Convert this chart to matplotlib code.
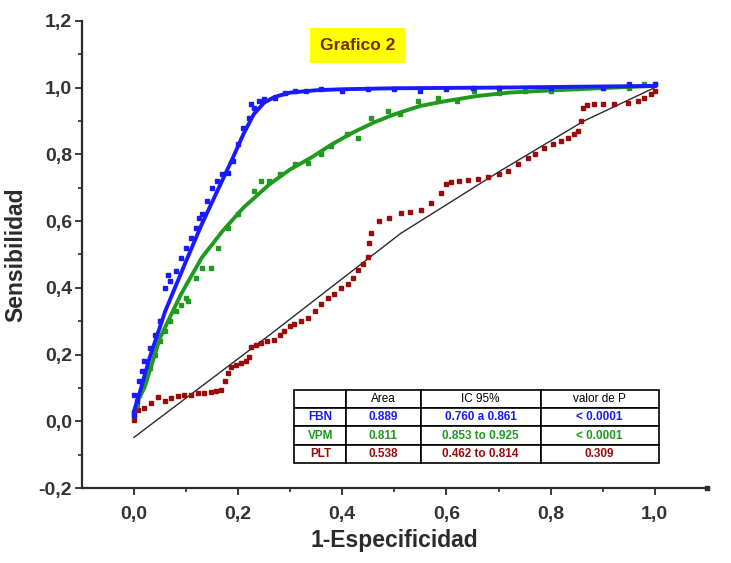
"""ROC curves (Grafico 2): FBN, VPM and PLT, with the summary table inset."""
import numpy as np
import matplotlib
matplotlib.use("Agg")
import matplotlib.pyplot as plt
from matplotlib.ticker import FixedLocator, FuncFormatter

FONT = "Liberation Sans"
BLUE, GREEN, RED, INK = "#1a1aff", "#1f9a1f", "#9a0c0c", "#2b2b2b"

# --- FBN (blue): fitted curve and ROC points
fbn_fit_x = [0, 0.01, 0.03, 0.06, 0.10, 0.13, 0.16, 0.19, 0.21, 0.23, 0.25,
             0.27, 0.30, 0.35, 0.40, 0.50, 0.70, 1.0]
fbn_fit_y = [0.03, 0.08, 0.19, 0.33, 0.48, 0.59, 0.69, 0.79, 0.86, 0.92, 0.955,
             0.972, 0.985, 0.992, 0.995, 0.998, 1.0, 1.005]
fbn_x = [0.0, 0.0, 0.005, 0.01, 0.015, 0.02, 0.03, 0.04, 0.05, 0.06, 0.065, 0.07,
         0.08, 0.09, 0.10, 0.11, 0.12, 0.125, 0.13, 0.14, 0.15, 0.16, 0.17, 0.18,
         0.19, 0.20, 0.21, 0.22, 0.225, 0.23, 0.24, 0.25, 0.27, 0.29, 0.31, 0.33,
         0.36, 0.40, 0.45, 0.50, 0.55, 0.60, 0.65, 0.70, 0.80, 0.90, 0.95, 1.0]
fbn_y = [0.02, 0.08, 0.06, 0.12, 0.15, 0.18, 0.22, 0.26, 0.30, 0.40, 0.44, 0.42,
         0.45, 0.49, 0.52, 0.55, 0.58, 0.61, 0.62, 0.66, 0.70, 0.72, 0.74, 0.745,
         0.78, 0.83, 0.88, 0.91, 0.95, 0.94, 0.96, 0.965, 0.97, 0.985, 0.99, 0.99,
         0.995, 0.99, 0.995, 0.995, 0.99, 0.995, 1.0, 1.0, 1.0, 1.0, 1.01, 1.01]

# --- VPM (green)
vpm_fit_x = [0, 0.01, 0.02, 0.05, 0.09, 0.13, 0.17, 0.21, 0.26, 0.30, 0.34, 0.38,
             0.42, 0.46, 0.50, 0.55, 0.60, 0.66, 0.72, 0.78, 0.85, 0.92, 1.0]
vpm_fit_y = [0.03, 0.07, 0.10, 0.25, 0.38, 0.49, 0.57, 0.64, 0.71, 0.755, 0.79,
             0.83, 0.865, 0.895, 0.92, 0.945, 0.96, 0.975, 0.985, 0.99, 0.995,
             1.0, 1.005]
vpm_x = [0, 0.005, 0.01, 0.02, 0.03, 0.04, 0.05, 0.06, 0.07, 0.08, 0.09, 0.10,
         0.104, 0.12, 0.13, 0.148, 0.161, 0.18, 0.20, 0.23, 0.244, 0.26, 0.28,
         0.31, 0.334, 0.36, 0.378, 0.41, 0.43, 0.455, 0.487, 0.51, 0.545, 0.583,
         0.62, 0.653, 0.70, 0.75, 0.80, 0.85, 0.90, 0.95, 0.98, 1.0]
vpm_y = [0.02, 0.05, 0.08, 0.12, 0.16, 0.20, 0.24, 0.27, 0.30, 0.33, 0.35, 0.37,
         0.36, 0.43, 0.46, 0.46, 0.52, 0.58, 0.62, 0.69, 0.72, 0.72, 0.74, 0.77,
         0.775, 0.80, 0.826, 0.86, 0.85, 0.91, 0.93, 0.92, 0.96, 0.97, 0.96, 0.99,
         0.985, 0.99, 0.99, 1.0, 1.0, 1.0, 1.01, 1.01]

# --- PLT (dark red) points and its thin black fit
plt_x = [0, 0.008, 0.02, 0.033, 0.046, 0.06, 0.071, 0.085, 0.096, 0.11, 0.123,
         0.135, 0.148, 0.158, 0.167, 0.175, 0.18, 0.186, 0.195, 0.205, 0.215,
         0.221, 0.225, 0.235, 0.244, 0.256, 0.269, 0.28, 0.288, 0.30, 0.307, 0.32,
         0.334, 0.347, 0.359, 0.372, 0.384, 0.398, 0.411, 0.42, 0.43, 0.44, 0.449,
         0.452, 0.455, 0.47, 0.49, 0.512, 0.53, 0.551, 0.57, 0.589, 0.60, 0.608,
         0.625, 0.641, 0.66, 0.679, 0.70, 0.718, 0.737, 0.756, 0.77, 0.787, 0.805,
         0.82, 0.833, 0.845, 0.852, 0.858, 0.862, 0.87, 0.883, 0.90, 0.921, 0.948,
         0.967, 0.98, 0.992, 1.0]
plt_y = [0.003, 0.033, 0.04, 0.054, 0.072, 0.06, 0.069, 0.075, 0.078, 0.08, 0.084,
         0.085, 0.087, 0.09, 0.093, 0.12, 0.144, 0.162, 0.17, 0.174, 0.18, 0.192,
         0.222, 0.228, 0.234, 0.24, 0.243, 0.26, 0.272, 0.285, 0.293, 0.30, 0.311,
         0.33, 0.353, 0.37, 0.383, 0.40, 0.413, 0.43, 0.452, 0.47, 0.491, 0.533,
         0.563, 0.60, 0.61, 0.623, 0.628, 0.632, 0.653, 0.683, 0.71, 0.716, 0.72,
         0.722, 0.726, 0.731, 0.74, 0.751, 0.772, 0.79, 0.80, 0.82, 0.83, 0.841,
         0.85, 0.862, 0.87, 0.901, 0.94, 0.948, 0.952, 0.952, 0.952, 0.955, 0.961,
         0.97, 0.982, 0.99]
ref_x = [0, 0.263, 0.512, 0.704, 0.864, 1.0]
ref_y = [-0.048, 0.262, 0.563, 0.751, 0.90, 1.0]

# --- summary table
tbl_header = ["", "Area", "IC 95%", "valor de P"]
tbl_rows = [["FBN", "0.889", "0.760 a 0.861", "< 0.0001"],
            ["VPM", "0.811", "0.853 to 0.925", "< 0.0001"],
            ["PLT", "0.538", "0.462 to 0.814", "0.309"]]
tbl_colors = [BLUE, GREEN, RED]

x_major = [0.0, 0.2, 0.4, 0.6, 0.8, 1.0]
x_minor = [0.1, 0.3, 0.5, 0.7, 0.9]
y_major = [-0.2, 0.0, 0.2, 0.4, 0.6, 0.8, 1.0, 1.2]
y_minor = [-0.1, 0.1, 0.3, 0.5, 0.7, 0.9, 1.1]


def comma(v, _pos):
    return f"{v:.1f}".replace(".", ",")


def main():
    fig = plt.figure(figsize=(7.31, 5.63), dpi=100)
    ax = fig.add_axes([0.112, 0.133, 0.855, 0.830])
    ax.set_xlim(-0.1, 1.1)
    ax.set_ylim(-0.2, 1.2)

    ax.plot(ref_x, ref_y, color=INK, lw=1.0, zorder=2)
    ax.plot(plt_x, plt_y, "s", color=RED, ms=3.4, mec=RED, zorder=3)
    ax.plot(vpm_x, vpm_y, "s", color=GREEN, ms=3.2, zorder=4)
    ax.plot(vpm_fit_x, vpm_fit_y, color=GREEN, lw=2.8, zorder=4)
    ax.plot(fbn_x, fbn_y, "s", color=BLUE, ms=3.2, zorder=5)
    ax.plot(fbn_fit_x, fbn_fit_y, color=BLUE, lw=2.8, zorder=5)

    # axes styling: only left/bottom, ticks out, comma decimals
    for side in ("top", "right"):
        ax.spines[side].set_visible(False)
    for side in ("left", "bottom"):
        ax.spines[side].set_linewidth(1.6)
        ax.spines[side].set_color(INK)
    ax.xaxis.set_major_locator(FixedLocator(x_major))
    ax.xaxis.set_minor_locator(FixedLocator(x_minor))
    ax.yaxis.set_major_locator(FixedLocator(y_major))
    ax.yaxis.set_minor_locator(FixedLocator(y_minor))
    ax.xaxis.set_major_formatter(FuncFormatter(comma))
    ax.yaxis.set_major_formatter(FuncFormatter(comma))
    ax.tick_params(which="major", direction="out", length=5, width=1.3,
                   color=INK, pad=4)
    ax.tick_params(which="minor", direction="out", length=3, width=1.2, color=INK)
    for lab in ax.get_xticklabels() + ax.get_yticklabels():
        lab.set_fontfamily(FONT); lab.set_fontweight("bold")
        lab.set_fontsize(14); lab.set_color("#333333")
    ax.tick_params(axis="x", pad=8)
    ax.tick_params(axis="y", pad=2)
    ax.plot(1, 0, "s", color=INK, ms=3, transform=ax.transAxes, clip_on=False)

    ax.set_xlabel("1-Especificidad", family=FONT, fontweight="bold", fontsize=16.5,
                  color=INK, labelpad=4)
    ax.set_ylabel("Sensibilidad", family=FONT, fontweight="bold", fontsize=16.5,
                  color=INK, labelpad=8)

    ax.text(0.429, 1.126, "Grafico 2", ha="center", va="center", family=FONT,
            fontweight="bold", fontsize=12.5, color="#7a2a00",
            bbox=dict(boxstyle="square,pad=0.55", fc="#ffff00", ec="none"))

    tb = ax.table(cellText=tbl_rows, colLabels=tbl_header,
                  colWidths=[52, 74, 120, 118], cellLoc="center",
                  bbox=[0.340, 0.053, 0.583, 0.158])
    tb.auto_set_font_size(False)
    for (r, c), cell in tb.get_celld().items():
        cell.set_edgecolor("black")
        cell.set_linewidth(1.2)
        txt = cell.get_text()
        txt.set_fontfamily(FONT)
        txt.set_fontsize(8.5)
        if r == 0:
            txt.set_color("black")
        else:
            txt.set_color(tbl_colors[r - 1])
            txt.set_fontweight("bold")
    tb.set_zorder(6)

    fig.savefig("out.png", dpi=100)
    plt.close(fig)


if __name__ == "__main__":
    main()
